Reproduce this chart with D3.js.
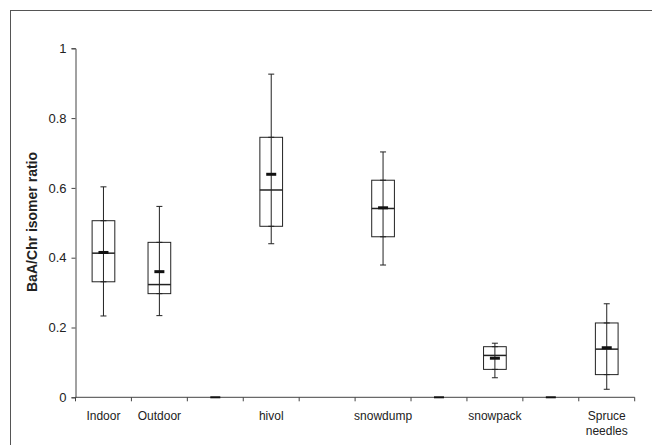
<!DOCTYPE html>
<html>
<head>
<meta charset="utf-8">
<script src="https://cdn.jsdelivr.net/npm/d3@7"></script>
<style>
  body { margin: 0; background: #fff; }
  svg text { font-family: "Liberation Sans", Arial, sans-serif; fill: #222; }
</style>
</head>
<body>
<svg id="chart" width="652" height="445"></svg>
<script>
    // category slots, empty ones are spacers between groups
    var categories = ["Indoor", "Outdoor", "gap1", "hivol", "gap2", "snowdump", "gap3", "snowpack", "gap4", "Spruce needles"];
    var labels = ["Indoor", "Outdoor", "", "hivol", "", "snowdump", "", "snowpack", "", "Spruce|needles"];
    var whiskerLow  = [0.233, 0.234, null, 0.440, null, 0.379, null, 0.056, null, 0.023];
    var boxLow      = [0.331, 0.297, null, 0.490, null, 0.460, null, 0.080, null, 0.065];
    var medians     = [0.413, 0.323, null, 0.594, null, 0.541, null, 0.120, null, 0.138];
    var boxHigh     = [0.506, 0.444, null, 0.745, null, 0.622, null, 0.145, null, 0.213];
    var whiskerHigh = [0.603, 0.547, null, 0.926, null, 0.703, null, 0.155, null, 0.268];
    var means       = [0.415, 0.360, 0, 0.639, null, 0.543, 0, 0.112, 0, 0.142];
    var yTicks = [0, 0.2, 0.4, 0.6, 0.8, 1];

    var svg = d3.select("#chart");

    // outer frame (runs off the right and bottom edges)
    svg.append("rect")
        .attr("x", 10.5).attr("y", 10.5)
        .attr("width", 660).attr("height", 460)
        .attr("fill", "none")
        .attr("stroke", "#555")
        .attr("stroke-width", 1);

    var x = d3.scaleBand().domain(categories).range([75.5, 634.7]);
    var y = d3.scaleLinear().domain([0, 1]).range([397.3, 48.3]);

    var g = svg.append("g");

    // y axis
    var yAxis = g.append("g")
        .attr("transform", "translate(75.5,0)")
        .call(d3.axisLeft(y).tickValues(yTicks).tickSize(4).tickFormat(d3.format("")));
    yAxis.select(".domain").attr("stroke", "#444");
    yAxis.selectAll(".tick line").attr("stroke", "#444");
    yAxis.selectAll(".tick text").attr("font-size", "13px").attr("x", -9).attr("fill", "#333");

    // x axis with ticks at category boundaries
    var xAxis = g.append("g").attr("transform", "translate(0,397.3)");
    xAxis.append("line")
        .attr("x1", x.range()[0]).attr("x2", x.range()[1])
        .attr("stroke", "#444");
    var bounds = categories.map(function (c) { return x(c); }).concat([x.range()[1]]);
    xAxis.selectAll(".xtick")
        .data(bounds)
        .enter()
        .append("line")
        .attr("x1", function (d) { return d; })
        .attr("x2", function (d) { return d; })
        .attr("y1", 0).attr("y2", 4)
        .attr("stroke", "#444");

    xAxis.selectAll(".xlabel")
        .data(labels)
        .enter()
        .append("text")
        .attr("text-anchor", "middle")
        .attr("font-size", "12px")
        .attr("fill", "#333")
        .attr("x", function (d, i) { return x(categories[i]) + x.bandwidth() / 2; })
        .attr("y", 23)
        .each(function (d) {
            var parts = d.split("|");
            var t = d3.select(this);
            parts.forEach(function (p, k) {
                t.append("tspan")
                    .attr("x", t.attr("x"))
                    .attr("dy", k === 0 ? 0 : 15)
                    .text(p);
            });
        });

    // y axis title
    svg.append("text")
        .attr("transform", "translate(37,222) rotate(-90)")
        .attr("text-anchor", "middle")
        .attr("font-size", "14px")
        .attr("font-weight", "bold")
        .text("BaA/Chr isomer ratio");

    var boxW = 22.7, capW = 6, meanW = 10;
    var boxes = g.append("g").attr("stroke", "#222").attr("fill", "none").attr("stroke-width", 1);

    categories.forEach(function (c, i) {
        var cx = x(c) + x.bandwidth() / 2;
        if (whiskerLow[i] !== null) {
            // whisker runs through the box
            boxes.append("line")
                .attr("x1", cx).attr("x2", cx)
                .attr("y1", y(whiskerLow[i])).attr("y2", y(whiskerHigh[i]));
            // caps at whisker ends and box edges
            [whiskerLow[i], whiskerHigh[i], boxLow[i], boxHigh[i]].forEach(function (v) {
                boxes.append("line")
                    .attr("x1", cx - capW / 2).attr("x2", cx + capW / 2)
                    .attr("y1", y(v)).attr("y2", y(v));
            });
            // box
            boxes.append("rect")
                .attr("x", cx - boxW / 2)
                .attr("y", y(boxHigh[i]))
                .attr("width", boxW)
                .attr("height", y(boxLow[i]) - y(boxHigh[i]));
            // median
            boxes.append("line")
                .attr("x1", cx - boxW / 2).attr("x2", cx + boxW / 2)
                .attr("y1", y(medians[i])).attr("y2", y(medians[i]))
                .attr("stroke-width", 1.5);
        }
        if (means[i] !== null) {
            boxes.append("line")
                .attr("x1", cx - meanW / 2).attr("x2", cx + meanW / 2)
                .attr("y1", y(means[i])).attr("y2", y(means[i]))
                .attr("stroke", "#111")
                .attr("stroke-width", whiskerLow[i] === null ? 2 : 3);
        }
    });
</script>
</body>
</html>
